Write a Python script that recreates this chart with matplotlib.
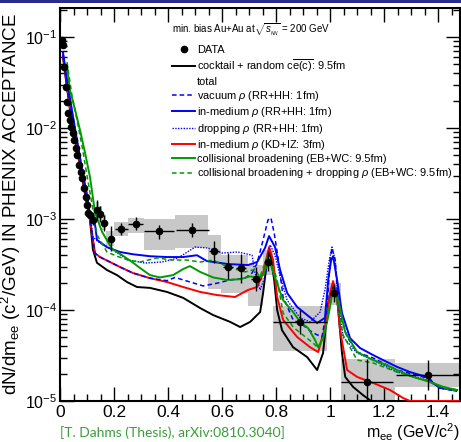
import matplotlib
matplotlib.use("Agg")
import matplotlib.pyplot as plt
from matplotlib.lines import Line2D
from matplotlib.patches import Rectangle
import matplotlib.ticker as mtick

plt.rcParams["font.family"] = ["Liberation Sans", "DejaVu Sans"]
plt.rcParams["mathtext.fontset"] = "custom"
plt.rcParams["mathtext.rm"] = "Liberation Sans"
plt.rcParams["mathtext.it"] = "Liberation Sans:italic"
plt.rcParams["mathtext.bf"] = "Liberation Sans:bold"

#%% data points
data_x = [0.006, 0.011, 0.015, 0.022, 0.026, 0.030, 0.037, 0.041, 0.048, 0.052, 0.059, 0.063,
          0.070, 0.078, 0.081, 0.089, 0.096, 0.100, 0.104, 0.111, 0.122, 0.137, 0.148, 0.163,
          0.189, 0.226, 0.281, 0.367, 0.489, 0.570, 0.622, 0.670, 0.726, 0.770, 0.889, 1.015,
          1.137, 1.363]
data_y = [0.093, 0.082, 0.047, 0.028, 0.0194, 0.0146, 0.0123, 0.0102, 0.0088, 0.0074, 0.0060, 0.0050,
          0.0039, 0.0033, 0.0028, 0.0022, 0.00174, 0.00141, 0.00117, 0.00110, 9.8e-4, 1.26e-3, 1.14e-3, 9.1e-4,
          6.1e-4, 7.8e-4, 8.9e-4, 7.3e-4, 7.6e-4, 4.4e-4, 3.0e-4, 2.9e-4, 2.2e-4, 3.4e-4, 7.4e-5, 1.55e-4,
          1.6e-5, 1.95e-5]

# points with visible error bars
err_x = [0.122, 0.137, 0.148, 0.163, 0.189, 0.226, 0.281, 0.367, 0.489, 0.570, 0.622, 0.670,
         0.726, 0.770, 0.889, 1.015, 1.137, 1.363]
err_y = [9.8e-4, 1.26e-3, 1.14e-3, 9.1e-4, 6.1e-4, 7.8e-4, 8.9e-4, 7.3e-4, 7.6e-4, 4.4e-4, 3.0e-4, 2.9e-4,
         2.2e-4, 3.4e-4, 7.4e-5, 1.55e-4, 1.6e-5, 1.95e-5]
err_lo = [8.5e-4, 9.8e-4, 9.3e-4, 7.4e-4, 4.5e-4, 6.7e-4, 7.6e-4, 6.1e-4, 6.4e-4, 3.3e-4, 2.2e-4, 2.0e-4,
          1.6e-4, 2.7e-4, 5.5e-5, 1.23e-4, 5e-6, 1.33e-5]
err_hi = [1.13e-3, 1.62e-3, 1.40e-3, 1.11e-3, 8.3e-4, 9.1e-4, 1.04e-3, 8.7e-4, 9.1e-4, 5.8e-4, 4.2e-4, 4.1e-4,
          3.0e-4, 4.3e-4, 1.0e-4, 1.95e-4, 2.9e-5, 2.85e-5]
err_xw = [0.0, 0.005, 0.005, 0.007, 0.0, 0.024, 0.028, 0.056, 0.061, 0.02, 0.02, 0.02,
          0.02, 0.015, 0.1, 0.015, 0.095, 0.12]

# systematic boxes
sys_x0 = [0.132, 0.143, 0.155, 0.172, 0.200, 0.252, 0.311, 0.426, 0.548, 0.596, 0.646, 0.696, 0.752, 0.788, 0.990, 1.040, 1.240]
sys_x1 = [0.143, 0.155, 0.172, 0.200, 0.252, 0.311, 0.426, 0.548, 0.596, 0.646, 0.696, 0.752, 0.788, 0.990, 1.040, 1.240, 1.480]
sys_lo = [1.0e-3, 9.3e-4, 7.5e-4, 5.0e-4, 6.5e-4, 7.0e-4, 4.6e-4, 4.8e-4, 1.7e-4, 1.54e-4, 1.54e-4, 1.1e-4, 2.4e-4, 3.54e-5, 1.14e-4, 1.0e-5, 1.43e-5]
sys_hi = [1.55e-3, 1.38e-3, 1.1e-3, 7.4e-4, 9.3e-4, 1.02e-3, 1.0e-3, 1.1e-3, 6.6e-4, 4.0e-4, 4.0e-4, 3.1e-4, 4.6e-4, 1.1e-4, 1.97e-4, 2.9e-5, 2.6e-5]

#%% model curves
black_x = [0.011, 0.022, 0.037, 0.056, 0.074, 0.093, 0.111, 0.122, 0.137, 0.174, 0.211, 0.248, 0.285, 0.333,
           0.396, 0.456, 0.519, 0.567, 0.630, 0.667, 0.704, 0.741, 0.752, 0.767, 0.778, 0.793, 0.804, 0.822,
           0.863, 0.915, 0.952, 0.974, 0.993, 1.011, 1.026, 1.044, 1.056, 1.085, 1.122, 1.156, 1.20]
black_y = [6.0e-2, 3.4e-2, 1.58e-2, 7.4e-3, 3.9e-3, 1.84e-3, 9.8e-4, 4.6e-4, 3.3e-4, 2.75e-4, 2.42e-4, 2.03e-4,
           1.79e-4, 1.75e-4, 1.58e-4, 1.36e-4, 1.05e-4, 8.8e-5, 7.4e-5, 6.5e-5, 7.4e-5, 9.5e-5, 1.54e-4, 3.54e-4,
           4.34e-4, 2.14e-4, 1.0e-4, 6.0e-5, 3.9e-5, 3.04e-5, 2.19e-5, 3.37e-5, 1.19e-4, 1.88e-4, 1.39e-4,
           3.37e-5, 1.84e-5, 1.43e-5, 1.16e-5, 9.8e-6, 8.0e-6]

red_x = [0.011, 0.022, 0.037, 0.056, 0.074, 0.093, 0.111, 0.130, 0.148, 0.185, 0.222, 0.270, 0.333, 0.396,
         0.456, 0.519, 0.581, 0.648, 0.696, 0.730, 0.752, 0.774, 0.789, 0.804, 0.826, 0.878, 0.926, 0.956,
         0.981, 1.0, 1.011, 1.026, 1.037, 1.063, 1.1, 1.159, 1.222, 1.27, 1.296, 1.40, 1.48]
red_y = [6.3e-2, 3.5e-2, 1.66e-2, 7.8e-3, 4.1e-3, 1.97e-3, 9.8e-4, 4.2e-4, 3.82e-4, 3.37e-4, 2.97e-4, 2.55e-4,
         2.24e-4, 2.03e-4, 1.79e-4, 1.58e-4, 1.46e-4, 1.39e-4, 1.66e-4, 1.79e-4, 2.55e-4, 4.92e-4, 3.54e-4,
         1.39e-4, 7.8e-5, 5.05e-5, 3.9e-5, 3.45e-5, 6.5e-5, 1.54e-4, 2.08e-4, 1.39e-4, 6.0e-5, 2.19e-5,
         1.84e-5, 1.58e-5, 1.32e-5, 1.08e-5, 1.0e-5, 1.0e-5, 1.0e-5]

blue_x = [0.011, 0.026, 0.044, 0.063, 0.081, 0.100, 0.111, 0.130, 0.137, 0.174, 0.222, 0.270, 0.333, 0.396,
          0.456, 0.507, 0.544, 0.622, 0.696, 0.730, 0.759, 0.774, 0.796, 0.815, 0.841, 0.878, 0.915, 0.952,
          0.981, 0.993, 1.004, 1.011, 1.026, 1.044, 1.074, 1.111, 1.159, 1.196, 1.248, 1.296, 1.333, 1.363,
          1.381, 1.407, 1.47]
blue_y = [6.8e-2, 3.4e-2, 1.58e-2, 7.4e-3, 3.63e-3, 1.84e-3, 1.1e-3, 8.6e-4, 5.9e-4, 4.9e-4, 4.34e-4, 4.1e-4,
          3.9e-4, 3.82e-4, 3.82e-4, 4.0e-4, 3.45e-4, 3.2e-4, 3.12e-4, 3.37e-4, 4.8e-4, 6.5e-4, 4.92e-4,
          2.75e-4, 1.54e-4, 1.08e-4, 8.8e-5, 7.2e-5, 8.2e-5, 2.14e-4, 3.54e-4, 3.9e-4, 2.14e-4, 9.3e-5,
          4.9e-5, 3.82e-5, 3.2e-5, 2.82e-5, 2.37e-5, 2.08e-5, 1.93e-5, 1.84e-5, 1.58e-5, 1.39e-5, 1.32e-5]

vac_x = [0.011, 0.022, 0.037, 0.056, 0.074, 0.093, 0.111, 0.130, 0.148, 0.185, 0.222, 0.270, 0.333, 0.396,
         0.426, 0.470, 0.530, 0.581, 0.630, 0.685, 0.711, 0.730, 0.752, 0.770, 0.781, 0.793, 0.807, 0.826,
         0.863, 0.900, 0.937, 0.970, 0.989, 1.0, 1.007, 1.019, 1.030, 1.063, 1.1, 1.159, 1.248, 1.359,
         1.407, 1.47]
vac_y = [6.3e-2, 3.5e-2, 1.66e-2, 7.8e-3, 4.1e-3, 1.97e-3, 9.8e-4, 4.2e-4, 3.82e-4, 3.37e-4, 2.97e-4, 2.55e-4,
         2.24e-4, 2.1e-4, 2.28e-4, 2.08e-4, 1.84e-4, 1.97e-4, 2.14e-4, 2.24e-4, 2.55e-4, 3.28e-4, 5.9e-4,
         9.75e-4, 1.03e-3, 7.0e-4, 3.82e-4, 1.39e-4, 7.8e-5, 6.8e-5, 5.6e-5, 5.05e-5, 1.08e-4, 3.54e-4,
         4.8e-4, 3.54e-4, 1.08e-4, 5.05e-5, 3.45e-5, 2.97e-5, 2.19e-5, 1.79e-5, 1.39e-5, 1.28e-5]

drop_x = [0.011, 0.026, 0.044, 0.063, 0.081, 0.100, 0.111, 0.122, 0.148, 0.196, 0.252, 0.315, 0.378, 0.437,
          0.500, 0.548, 0.600, 0.659, 0.711, 0.722, 0.741, 0.759, 0.778, 0.796, 0.815, 0.841, 0.889, 0.926,
          0.963, 0.981, 0.996, 1.007, 1.019, 1.030, 1.048, 1.1, 1.159, 1.248, 1.359, 1.407, 1.47]
drop_y = [6.8e-2, 3.4e-2, 1.58e-2, 7.4e-3, 3.63e-3, 1.84e-3, 1.1e-3, 6.34e-4, 5.45e-4, 4.56e-4, 3.54e-4,
          3.28e-4, 3.37e-4, 3.73e-4, 4.92e-4, 4.8e-4, 4.23e-4, 4.34e-4, 4.0e-4, 2.55e-4, 1.66e-4, 2.34e-4,
          5.2e-4, 4.0e-4, 2.34e-4, 1.28e-4, 8.2e-5, 7.4e-5, 9.5e-5, 1.66e-4, 3.37e-4, 4.92e-4, 3.54e-4,
          1.28e-4, 5.05e-5, 3.37e-5, 2.82e-5, 2.08e-5, 1.7e-5, 1.39e-5, 1.28e-5]

green_x = [0.026, 0.037, 0.056, 0.074, 0.093, 0.111, 0.130, 0.156, 0.193, 0.230, 0.267, 0.296, 0.333, 0.370,
           0.419, 0.456, 0.481, 0.519, 0.567, 0.619, 0.667, 0.704, 0.733, 0.752, 0.770, 0.781, 0.796, 0.826,
           0.863, 0.889, 0.919, 0.944, 0.956, 0.974, 0.993, 1.011, 1.030, 1.056, 1.1, 1.159, 1.211, 1.248,
           1.307, 1.37, 1.419, 1.47]
green_y = [4.7e-2, 2.6e-2, 1.58e-2, 9.5e-3, 5.3e-3, 2.9e-3, 1.16e-3, 7.2e-4, 4.68e-4, 4.0e-4, 3.37e-4, 2.9e-4,
           2.42e-4, 2.28e-4, 2.42e-4, 2.82e-4, 3.04e-4, 2.62e-4, 2.28e-4, 2.14e-4, 2.18e-4, 2.34e-4, 2.28e-4,
           2.42e-4, 3.3e-4, 3.1e-4, 2.28e-4, 1.28e-4, 9.5e-5, 7.4e-5, 6.3e-5, 4.7e-5, 3.9e-5, 4.9e-5, 8.4e-5,
           1.66e-4, 1.28e-4, 5.7e-5, 3.45e-5, 2.82e-5, 2.48e-5, 2.19e-5, 1.84e-5, 1.62e-5, 1.43e-5, 1.32e-5]

gd_x = [0.026, 0.044, 0.063, 0.081, 0.100, 0.119, 0.137, 0.174, 0.211, 0.252, 0.296, 0.359, 0.419, 0.470,
        0.519, 0.567, 0.622, 0.685, 0.722, 0.740, 0.767, 0.781, 0.804, 0.826, 0.863, 0.900, 0.937, 0.956,
        0.974, 0.993, 1.007, 1.022, 1.048, 1.1, 1.159, 1.248, 1.359, 1.419, 1.47]
gd_y = [5.3e-2, 2.3e-2, 1.22e-2, 6.5e-3, 3.0e-3, 1.43e-3, 6.7e-4, 4.34e-4, 3.9e-4, 3.54e-4, 3.37e-4, 3.73e-4,
        3.54e-4, 3.54e-4, 3.37e-4, 3.54e-4, 2.97e-4, 2.62e-4, 2.8e-4, 2.3e-4, 3.82e-4, 3.54e-4, 2.14e-4,
        9.3e-5, 6.5e-5, 5.3e-5, 4.34e-5, 3.82e-5, 4.68e-5, 9.3e-5, 1.54e-4, 1.39e-4, 5.3e-5, 2.82e-5,
        2.62e-5, 2.08e-5, 1.66e-5, 1.39e-5, 1.28e-5]

header = r"min. bias Au+Au at$\sqrt{s_{_{NN}}}$ = 200 GeV"
labels = ["DATA",
          r"cocktail + random c$\overline{\mathrm{e(c)}}$: 9.5fm",
          "total",
          r"vacuum $\rho$ (RR+HH: 1fm)",
          r"in-medium $\rho$ (RR+HH: 1fm)",
          r"dropping $\rho$ (RR+HH: 1fm)",
          r"in-medium $\rho$ (KD+IZ: 3fm)",
          "collisional broadening (EB+WC: 9.5fm)",
          r"collisional broadening + dropping $\rho$ (EB+WC: 9.5fm)"]

blue = "#0000ff"
red = "#ff0000"
green = "#009a00"

#%%
fig = plt.figure(figsize=(4.61, 4.42), dpi=100)
ax = fig.add_axes([60/461, 41/442, 400/461, 393/442])

# beamer frame bar on top
fig.patches.append(Rectangle((0, 1 - 3/442), 1, 3/442, transform=fig.transFigure,
                             facecolor="#2a2a8c", edgecolor="none"))

for x0, x1, lo, hi in zip(sys_x0, sys_x1, sys_lo, sys_hi):
    ax.add_patch(Rectangle((x0, lo), x1 - x0, hi - lo, facecolor="#c8c8c8", edgecolor="none", zorder=1))

lw = 1.4
ax.plot(black_x, black_y, color="black", lw=lw, zorder=3)
ax.plot(red_x, red_y, color=red, lw=lw, zorder=3)
ax.plot(vac_x, vac_y, color=blue, lw=1.1, ls=(0, (3, 2)), zorder=3)
ax.plot(drop_x, drop_y, color=blue, lw=1.0, ls=(0, (1, 1)), zorder=3)
ax.plot(blue_x, blue_y, color=blue, lw=lw, zorder=3)
ax.plot(gd_x, gd_y, color=green, lw=1.1, ls=(0, (3, 2)), zorder=3)
ax.plot(green_x, green_y, color=green, lw=lw, zorder=3)

ax.errorbar(err_x, err_y, xerr=err_xw,
            yerr=[[y - l for y, l in zip(err_y, err_lo)], [h - y for y, h in zip(err_y, err_hi)]],
            fmt="none", ecolor="black", elinewidth=1.0, capsize=0, zorder=4)
ax.plot(data_x, data_y, "o", color="black", ms=4.5, zorder=5)

ax.set_yscale("log")
ax.set_xlim(0, 1.481)
ax.set_ylim(1e-5, 0.2085)

ax.xaxis.set_major_locator(mtick.MultipleLocator(0.2))
ax.xaxis.set_minor_locator(mtick.MultipleLocator(0.05))
ax.xaxis.set_major_formatter(mtick.FuncFormatter(lambda v, p: "0" if abs(v) < 1e-9 else ("%g" % v)))
ax.yaxis.set_major_locator(mtick.LogLocator(base=10, numticks=10))
ax.yaxis.set_minor_locator(mtick.LogLocator(base=10, subs=range(2, 10), numticks=20))
ax.yaxis.set_minor_formatter(mtick.NullFormatter())

ax.tick_params(which="both", direction="in", top=True, right=True, width=1.0)
ax.tick_params(which="major", length=10)
ax.tick_params(which="minor", length=5)
ax.tick_params(axis="x", labelsize=12.5, pad=3)
ax.tick_params(axis="y", labelsize=11.5, pad=2)
for s in ax.spines.values():
    s.set_linewidth(1.5)

ax.set_ylabel(r"dN/dm$_{\mathrm{ee}}$ (c$^2$/GeV) IN PHENIX ACCEPTANCE", fontsize=13.5)
ax.yaxis.set_label_coords(-0.093, 0.5)
ax.set_xlabel(r"m$_{\mathrm{ee}}$ (GeV/c$^2$)", fontsize=11.5, loc="right")
ax.xaxis.set_label_coords(1.0, -0.052)

fig.text(60/461, 1 - 437/442, "[T. Dahms (Thesis), arXiv:0810.3040]", color="#3a9e3a",
         fontsize=10, family=["Lato", "DejaVu Sans"], va="baseline")

# legend: header as its own text, entries below
ax.text(0.28, 0.944, header, transform=ax.transAxes, fontsize=7, va="center", ha="left")

handles = [Line2D([], [], marker="o", color="black", ls="none", ms=4.5),
           Line2D([], [], color="black", lw=lw),
           Line2D([], [], color="none"),
           Line2D([], [], color=blue, lw=1.1, ls=(0, (3, 2))),
           Line2D([], [], color=blue, lw=lw),
           Line2D([], [], color=blue, lw=1.0, ls=(0, (1, 1))),
           Line2D([], [], color=red, lw=lw),
           Line2D([], [], color=green, lw=lw),
           Line2D([], [], color=green, lw=1.1, ls=(0, (3, 2)))]
leg = ax.legend(handles, labels, loc="upper left", bbox_to_anchor=(0.28, 0.905),
                frameon=False, fontsize=7.9, handlelength=2.1, handletextpad=0.2,
                labelspacing=0.21, borderaxespad=0, borderpad=0)

fig.savefig("out.png", dpi=100, facecolor="w")
